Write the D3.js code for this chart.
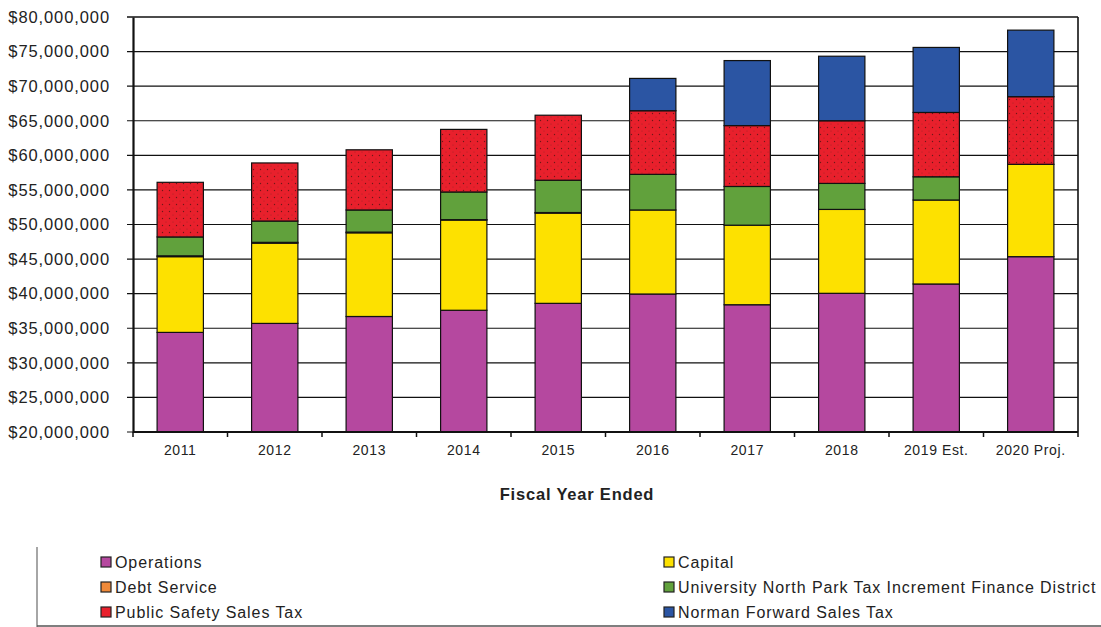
<!DOCTYPE html>
<html>
<head>
<meta charset="utf-8">
<script src="https://cdn.jsdelivr.net/npm/d3@7"></script>
<style>
  body { margin: 0; background: #fff; }
  svg { display: block; font-family: "Liberation Sans", Arial, sans-serif; }
</style>
</head>
<body>
<svg id="chart" width="1101" height="627"></svg>
<script>
// Fiscal years shown along the x axis
const years = ["2011", "2012", "2013", "2014", "2015", "2016", "2017", "2018", "2019 Est.", "2020 Proj."];

// Fund components, in millions of dollars, stacked bottom to top
const operations    = [34.4, 35.7, 36.7, 37.6, 38.6, 39.95, 38.4, 40.05, 41.4, 45.35];
const capital       = [10.95, 11.6, 12.1, 13.05, 13.05, 12.15, 11.5, 12.13, 12.14, 13.35];
const debtService   = [0.12, 0.12, 0.1, 0.05, 0.08, 0, 0, 0, 0, 0];
const tifDistrict   = [2.73, 3.08, 3.2, 4.0, 4.67, 5.15, 5.6, 3.76, 3.36, 0];
const publicSafety  = [7.9, 8.4, 8.7, 9.05, 9.4, 9.2, 8.8, 9.06, 9.3, 9.78];
const normanForward = [0, 0, 0, 0, 0, 4.67, 9.4, 9.33, 9.4, 9.62];

const seriesNames = [
  "Operations", "Capital", "Debt Service",
  "University North Park Tax Increment Finance District",
  "Public Safety Sales Tax", "Norman Forward Sales Tax"
];
const seriesValues = [operations, capital, debtService, tifDistrict, publicSafety, normanForward];
const seriesColors = ["#b5489f", "#fde100", "#f08a3a", "#61a13c", "#e8202c", "#2b55a3"];

// Y axis ticks in millions
const yTicks = [20, 25, 30, 35, 40, 45, 50, 55, 60, 65, 70, 75, 80];
const xTitle = "Fiscal Year Ended";

// Build stack input rows
const rows = years.map((y, i) => {
  const r = { year: y };
  seriesNames.forEach((n, j) => { r[n] = seriesValues[j][i]; });
  return r;
});
const stacked = d3.stack().keys(seriesNames)(rows);

const svg = d3.select("#chart");
const m = { left: 133, right: 1078, top: 17, bottom: 432 };

const x = d3.scaleBand().domain(years).range([m.left, m.right]).paddingInner(0.51).paddingOuter(0.255);
const xEdge = d3.scaleBand().domain(years).range([m.left, m.right]);
// Axis starts at $20M, so bar bottoms are clamped to the baseline
const y = d3.scaleLinear().domain([20, 80]).range([m.bottom, m.top]).clamp(true);

// Dotted fill used for the public safety segment
const defs = svg.append("defs");
const pat = defs.append("pattern")
  .attr("id", "dots").attr("patternUnits", "userSpaceOnUse")
  .attr("width", 7).attr("height", 7);
pat.append("rect").attr("width", 7).attr("height", 7).attr("fill", "#e8202c");
pat.append("circle").attr("cx", 1.5).attr("cy", 1.5).attr("r", 0.7).attr("fill", "#6e1818");
pat.append("circle").attr("cx", 5).attr("cy", 5).attr("r", 0.55).attr("fill", "#a02222");

// Gridlines
svg.append("g").selectAll("line").data(yTicks).join("line")
  .attr("x1", m.left - 6).attr("x2", m.right)
  .attr("y1", d => y(d)).attr("y2", d => y(d))
  .attr("stroke", "#111").attr("stroke-width", d => d === 80 ? 1.6 : 1.1);

// Right border
svg.append("line").attr("x1", m.right).attr("x2", m.right)
  .attr("y1", m.top).attr("y2", m.bottom).attr("stroke", "#111").attr("stroke-width", 1.6);

// Stacked bars
const layers = svg.append("g").selectAll("g").data(stacked).join("g")
  .attr("fill", (d, i) => i === 4 ? "url(#dots)" : seriesColors[i]);
layers.selectAll("rect").data(d => d.map(p => ({ p, year: p.data.year }))).join("rect")
  .filter(d => d.p[1] - d.p[0] > 0)
  .attr("x", d => x(d.year))
  .attr("width", x.bandwidth())
  .attr("y", d => y(d.p[1]))
  .attr("height", d => y(d.p[0]) - y(d.p[1]))
  .attr("stroke", "#111").attr("stroke-width", 1.2);

// Y axis
const yAxis = d3.axisLeft(y).tickValues(yTicks).tickSize(0).tickPadding(23)
  .tickFormat(d => "$" + d3.format(",")(d * 1000000));
const gy = svg.append("g").attr("transform", `translate(${m.left},0)`).call(yAxis);
gy.select(".domain").attr("stroke", "#111").attr("stroke-width", 2.2);
gy.selectAll("text").attr("font-size", 16.5).attr("letter-spacing", 0.9).attr("fill", "#222");

// X axis with ticks at category boundaries
svg.append("line").attr("x1", m.left).attr("x2", m.right)
  .attr("y1", m.bottom).attr("y2", m.bottom).attr("stroke", "#111").attr("stroke-width", 2.2);
const bounds = years.map(d => xEdge(d)).concat([m.right]);
svg.append("g").selectAll("line").data(bounds).join("line")
  .attr("x1", d => d).attr("x2", d => d)
  .attr("y1", m.bottom).attr("y2", m.bottom + 5)
  .attr("stroke", "#111").attr("stroke-width", 1.5);
svg.append("g").selectAll("text").data(years).join("text")
  .attr("x", d => x(d) + x.bandwidth() / 2)
  .attr("y", 455)
  .attr("text-anchor", "middle")
  .attr("font-size", 14).attr("letter-spacing", 0.6).attr("fill", "#222")
  .text(d => d);

svg.append("text").attr("x", 577).attr("y", 500).attr("text-anchor", "middle")
  .attr("font-size", 16.5).attr("letter-spacing", 0.8).attr("font-weight", "bold").attr("fill", "#222").text(xTitle);

// Legend frame
svg.append("line").attr("x1", 37).attr("x2", 37).attr("y1", 547).attr("y2", 627)
  .attr("stroke", "#888").attr("stroke-width", 1.5);
svg.append("line").attr("x1", 37).attr("x2", 1101).attr("y1", 626).attr("y2", 626)
  .attr("stroke", "#555").attr("stroke-width", 1.5);

// Legend: two columns, three rows
const legendOrder = [0, 2, 4, 1, 3, 5];
const legend = svg.append("g").selectAll("g").data(legendOrder).join("g")
  .attr("transform", (d, k) => {
    const col = k < 3 ? 0 : 1, row = k % 3;
    return `translate(${col === 0 ? 101 : 664},${562 + row * 25})`;
  });
legend.append("rect").attr("x", 0).attr("y", -5).attr("width", 10).attr("height", 10)
  .attr("fill", d => seriesColors[d]).attr("stroke", "#222").attr("stroke-width", 1.2);
legend.append("text").attr("x", 14).attr("y", 5.5)
  .attr("font-size", 16).attr("letter-spacing", 0.92).attr("fill", "#222")
  .text(d => seriesNames[d]);
</script>
</body>
</html>
